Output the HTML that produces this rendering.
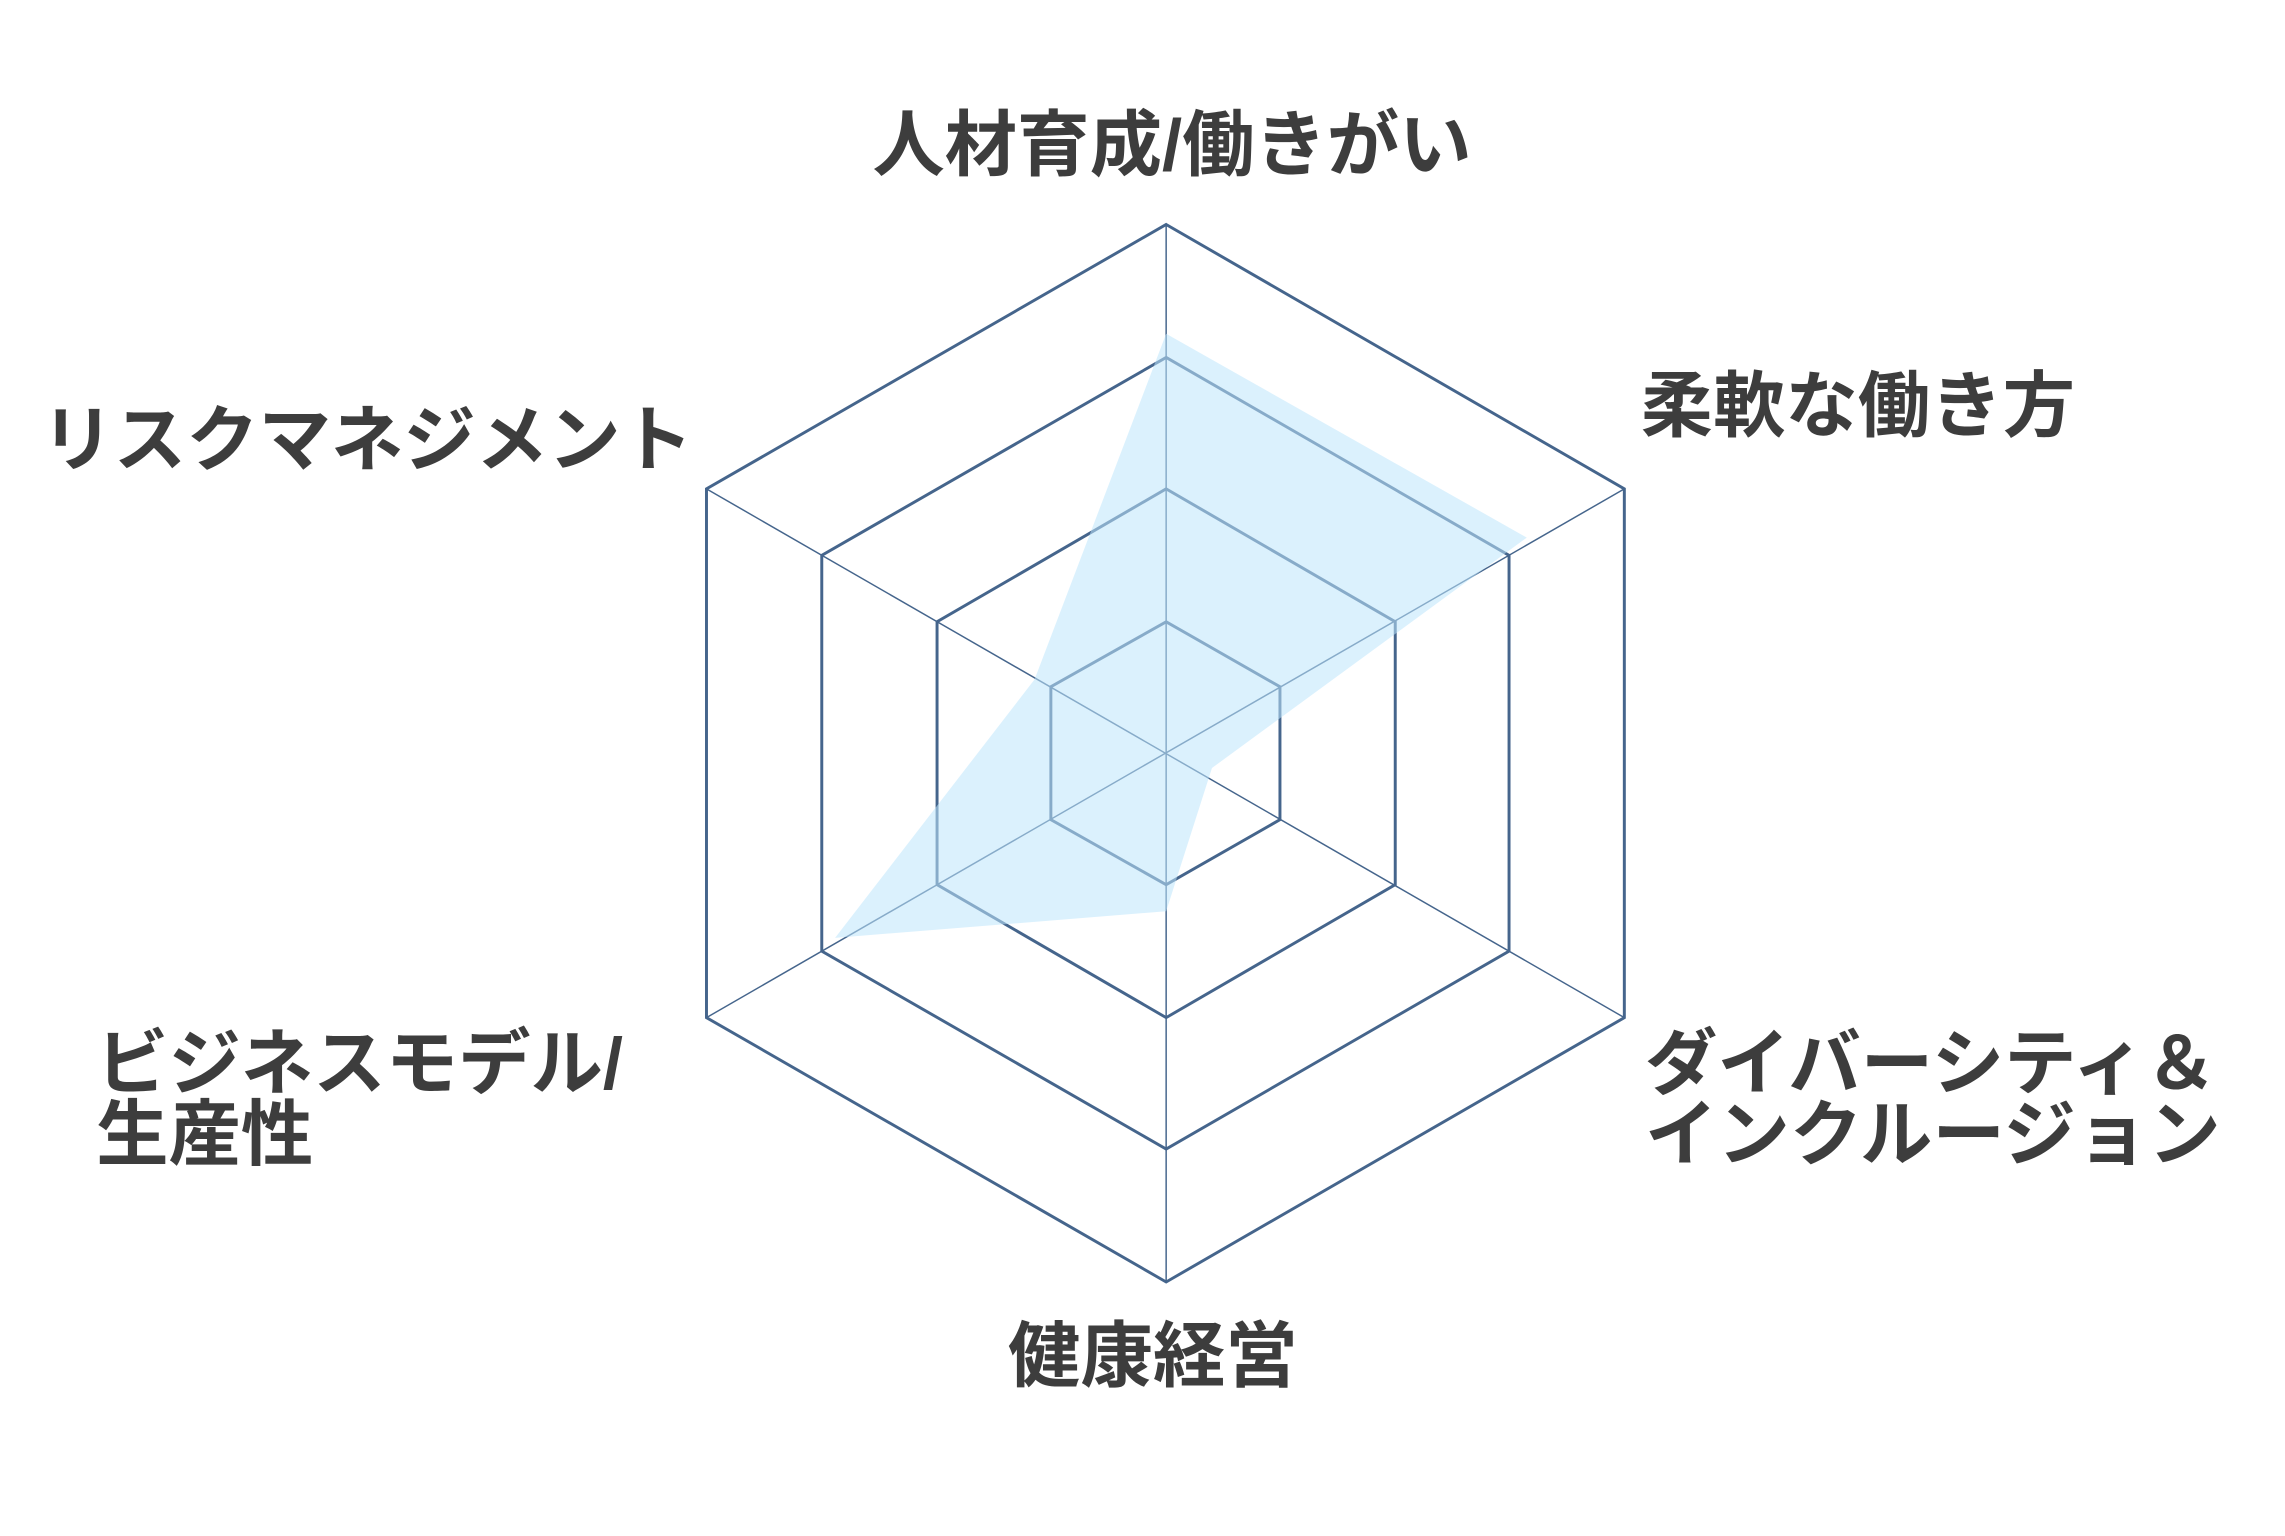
<!DOCTYPE html>
<html><head><meta charset="utf-8"><style>
html,body{margin:0;padding:0;background:#fff;}
svg{display:block}
text{font-family:"Liberation Sans","Noto Sans CJK JP",sans-serif;font-weight:bold;fill:#3d3d3d;font-size:49px}
</style></head><body>
<svg width="2285" height="1536" viewBox="0 0 1546 1040" preserveAspectRatio="none" xmlns="http://www.w3.org/2000/svg">
<rect width="1546" height="1040" fill="#fff"/>
<g fill="none" stroke="#45658c" stroke-width="2">
<polygon points="789,152 1099,331 1099,689 789,868 478,689 478,331"/>
<polygon points="789,242 1021,376 1021,644 789,778 556,644 556,376"/>
<polygon points="789,331 944,421 944,599 789,689 634,599 634,421"/>
<polygon points="789,421 866,465 866,555 789,599 711,555 711,465"/>
</g>
<g stroke="#45658c" stroke-width="1">
<line x1="789" y1="152" x2="789" y2="868"/>
<line x1="478" y1="331" x2="1099" y2="689"/>
<line x1="1099" y1="331" x2="478" y2="689"/>
</g>
<polygon points="789,226 1033,364 820,520 789,617 565,635 700,460" fill="rgba(190,230,252,0.55)"/>
<text x="793" y="115" text-anchor="middle">人材育成/働きがい</text>
<text x="1110" y="292">柔軟な働き方</text>
<text x="28" y="315">リスクマネジメント</text>
<text x="1113" y="737">ダイバーシティ＆</text>
<text x="1113" y="785">インクルージョン</text>
<text x="65" y="737">ビジネスモデル/</text>
<text x="65" y="785">生産性</text>
<text x="780" y="935" text-anchor="middle">健康経営</text>
</svg>
</body></html>
